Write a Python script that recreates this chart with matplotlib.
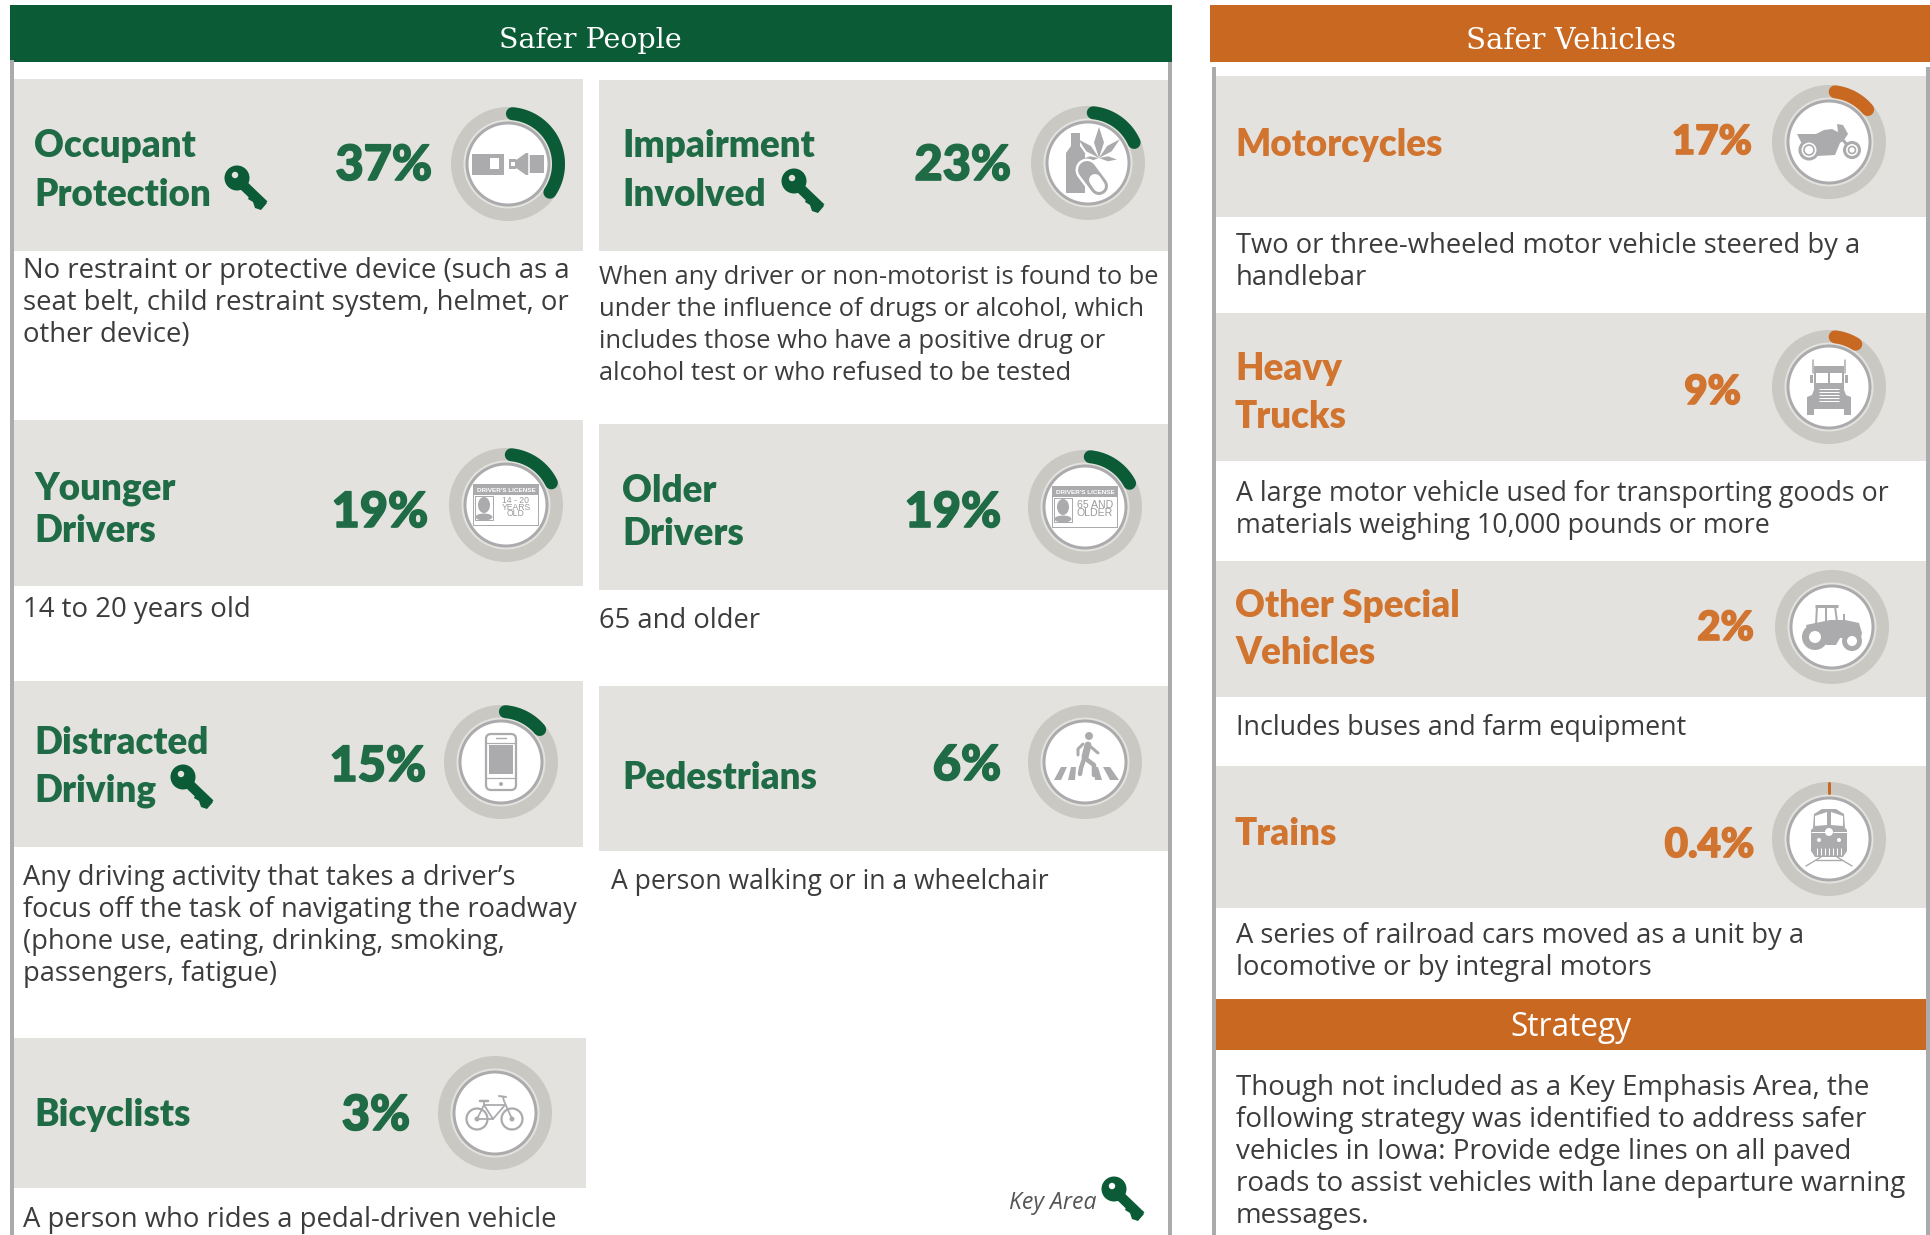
import matplotlib
matplotlib.use('Agg')
import matplotlib.pyplot as plt
import matplotlib.patheffects as pe
from matplotlib.patches import Rectangle, Circle, Ellipse, Polygon, FancyBboxPatch
import numpy as np

GREEN = '#0B5C36'
GREEN_TXT = '#1E6B45'
ORANGE = '#C96820'
ORANGE_TXT = '#D0742F'
PANEL = '#E3E2DE'
RING = '#C9C8C3'
ICON = '#ABABAD'
BODY = '#3C3C3C'

# 每个卡片的数据
names = ['Occupant\nProtection', 'Impairment\nInvolved', 'Younger\nDrivers', 'Older\nDrivers',
         'Distracted\nDriving', 'Pedestrians', 'Bicyclists',
         'Motorcycles', 'Heavy\nTrucks', 'Other Special\nVehicles', 'Trains']
pct_labels = ['37%', '23%', '19%', '19%', '15%', '6%', '3%', '17%', '9%', '2%', '0.4%']
# 圆环上彩色弧的起止角度(从正上方顺时针,读图估计)
arc_start = [5, 6, 6, 6, 5, 8, 7, 7, 7, 8, 0]
arc_end = [124, 66, 64, 62, 50, 8, 7, 50, 32, 8, 0]
descs = [
    ['No restraint or protective device (such as a', 'seat belt, child restraint system, helmet, or', 'other device)'],
    ['When any driver or non-motorist is found to be', 'under the influence of drugs or alcohol, which',
     'includes those who have a positive drug or', 'alcohol test or who refused to be tested'],
    ['14 to 20 years old'],
    ['65 and older'],
    ['Any driving activity that takes a driver\u2019s', 'focus off the task of navigating the roadway',
     '(phone use, eating, drinking, smoking,', 'passengers, fatigue)'],
    ['A person walking or in a wheelchair'],
    ['A person who rides a pedal-driven vehicle'],
    ['Two or three-wheeled motor vehicle steered by a', 'handlebar'],
    ['A large motor vehicle used for transporting goods or', 'materials weighing 10,000 pounds or more'],
    ['Includes buses and farm equipment'],
    ['A series of railroad cars moved as a unit by a', 'locomotive or by integral motors'],
]
strategy_lines = ['Though not included as a Key Emphasis Area, the', 'following strategy was identified to address safer',
                  'vehicles in Iowa: Provide edge lines on all paved', 'roads to assist vehicles with lane departure warning',
                  'messages.']
icons = ['belt', 'impair', 'young', 'old', 'phone', 'walk', 'bike', 'moto', 'truck', 'tractor', 'train']
has_key = [(237, 178), (794, 181), None, None, (183, 777), None, None, None, None, None, None]

# 版面位置(像素)
panels = [(10, 79, 583, 251), (599, 80, 1170, 251), (10, 420, 583, 586), (599, 424, 1170, 590),
          (10, 681, 583, 847), (599, 686, 1170, 851), (10, 1038, 586, 1188),
          (1214, 76, 1927, 217), (1214, 313, 1927, 461), (1214, 561, 1927, 697), (1214, 766, 1927, 908)]
centers = [(508, 164), (1088, 163), (506, 505), (1085, 507), (501, 762), (1085, 762), (495, 1113),
           (1829, 142), (1829, 387), (1832, 627), (1829, 839)]
name_x = [34, 622, 34, 622, 34, 622, 34, 1235, 1235, 1235, 1235]
name_y = [(157, 206), (157, 206), (499, 542), (502, 545), (754, 802), (789,), (1126,),
          (156,), (380, 428), (617, 664), (845,)]
pct_pos = [(432, 180), (1011, 180), (428, 527), (1001, 527), (426, 781), (1001, 780), (410, 1130),
           (1752, 154), (1741, 404), (1754, 640), (1754, 857)]
desc_x = [23, 599, 23, 599, 23, 611, 23, 1236, 1236, 1236, 1236]
desc_y = [278, 284, 617, 628, 885, 889, 1227, 253, 501, 735, 943]
# 原图各段文字的横向缩放不一样,所以字号分开写
desc_size = [19.8, 18.4, 19.9, 19.7, 19.6, 19.1, 19.8, 19.7, 19.3, 19.4, 19.7]

fig = plt.figure(figsize=(19.31, 12.35), dpi=100)
ax = fig.add_axes([0, 0, 1, 1])
ax.set_xlim(0, 1931)
ax.set_ylim(1235, 0)
ax.axis('off')


def line(xs, ys, lw=2.0, color=ICON, z=6, cap='round'):
    ax.plot(xs, ys, color=color, lw=lw * 0.72, solid_capstyle=cap, zorder=z)


def poly(pts, color=ICON, z=6):
    ax.add_patch(Polygon(pts, closed=True, fc=color, ec='none', zorder=z))


def rect(x0, y0, x1, y1, color=ICON, z=6):
    ax.add_patch(Rectangle((x0, y0), x1 - x0, y1 - y0, fc=color, ec='none', zorder=z))


def disc(x, y, r, color=ICON, z=6):
    ax.add_patch(Circle((x, y), r, fc=color, ec='none', zorder=z))


def draw_key(hx, hy, color=GREEN):
    # 钥匙:头部 + 斜向的杆
    disc(hx, hy, 12.5, color)
    disc(hx - 2, hy - 3, 3.2, PANEL if hy < 1150 else 'white', 7)
    line([hx + 4, hx + 27], [hy + 5, hy + 27], 10, color, cap='butt')
    poly([(hx + 14, hy + 14), (hx + 11, hy + 21), (hx + 16, hy + 24), (hx + 18, hy + 30), (hx + 24, hy + 32), (hx + 30, hy + 25)], color)


def draw_belt(cx, cy):
    rect(cx - 36, cy - 10, cx - 4, cy + 11)
    rect(cx - 18, cy - 6, cx - 9, cy + 5, 'white', 7)
    rect(cx + 1, cy - 5, cx + 8, cy + 5)
    rect(cx + 3, cy - 2, cx + 7, cy + 2, 'white', 7)
    poly([(cx + 8, cy - 4), (cx + 18, cy - 11), (cx + 21, cy - 11), (cx + 21, cy + 11), (cx + 18, cy + 11), (cx + 8, cy + 4)])
    rect(cx + 20, cy - 9, cx + 36, cy + 9)
    line([cx + 21, cx + 21], [cy - 11, cy + 11], 1.5, 'white', 7, 'butt')


def draw_impair(cx, cy):
    poly([(cx - 17, cy - 30), (cx - 8, cy - 30), (cx - 8, cy - 17), (cx - 3, cy - 10), (cx - 3, cy + 30),
          (cx - 22, cy + 30), (cx - 22, cy - 10), (cx - 17, cy - 17)])
    # 胶囊:白边、灰壳、白芯
    line([cx - 1, cx + 11], [cy + 7, cy + 23], 23, 'white', 7)
    line([cx - 1, cx + 11], [cy + 7, cy + 23], 18, ICON, 8)
    line([cx + 7, cx + 11], [cy + 17, cy + 23], 12, 'white', 9)
    # 叶子
    bx, by = cx + 11, cy - 5
    for ang, ln, w in zip([0, 48, -48, 95, -95], [31, 28, 28, 18, 18], [5, 3.5, 3.5, 2.5, 2.5]):
        t = np.radians(ang)
        tip = (bx + ln * np.sin(t), by - ln * np.cos(t))
        nx, ny = np.cos(t) * w, np.sin(t) * w
        mid = (bx + 0.5 * ln * np.sin(t), by - 0.5 * ln * np.cos(t))
        poly([(bx, by), (mid[0] - nx, mid[1] - ny), tip, (mid[0] + nx, mid[1] + ny)])


def draw_license(cx, cy, lines, size):
    rect(cx - 33, cy - 21, cx + 33, cy + 21, ICON, 6)
    rect(cx - 32, cy - 10, cx + 32, cy + 20, 'white', 7)
    ax.text(cx, cy - 15, "DRIVER'S LICENSE", color='white', fontsize=4.6, fontweight='bold',
            family='Liberation Sans', ha='center', va='center', zorder=8)
    line([cx - 31, cx - 13, cx - 13, cx - 31, cx - 31], [cy - 9, cy - 9, cy + 15, cy + 15, cy - 9], 1, ICON, 8)
    ax.add_patch(Ellipse((cx - 22, cy + 0), 12, 16, fc=ICON, ec='none', zorder=8))
    ax.add_patch(Ellipse((cx - 22, cy + 12), 17, 7, fc=ICON, ec='none', zorder=8))
    h = size * 1.05
    y0 = cy + 2 - h * (len(lines) - 1) / 2
    for i, s in enumerate(lines):
        ax.text(cx + 10, y0 + i * h, s, color='#9A9A9C', fontsize=size, family='Liberation Sans',
                ha='center', va='center', zorder=8)


def draw_phone(cx, cy):
    ax.add_patch(FancyBboxPatch((cx - 12, cy - 25), 24, 50, boxstyle='round,pad=3,rounding_size=5',
                                fc='white', ec=ICON, lw=1.6, zorder=6))
    rect(cx - 12, cy - 17, cx + 12, cy + 12)
    line([cx - 15, cx + 15], [cy - 19, cy - 19], 1.2, cap='butt')
    line([cx - 15, cx + 15], [cy + 16, cy + 16], 1.2, cap='butt')
    line([cx - 5, cx + 5], [cy - 24, cy - 24], 1.4)
    disc(cx, cy + 22, 2)


def draw_walk(cx, cy):
    stripes = [(-31, -24, -24, -18), (-17, -10, -14, -9), (10, 17, 9, 13), (25, 34, 18, 25)]
    for b0, b1, t0, t1 in stripes:
        poly([(cx + b0, cy + 18), (cx + b1, cy + 18), (cx + t1, cy + 5), (cx + t0, cy + 5)])
    disc(cx + 4, cy - 26, 4)
    line([cx + 3, cx + 0], [cy - 17, cy - 5], 7, z=8)
    line([cx - 2, cx - 7, cx - 7], [cy - 18, cy - 13, cy - 7], 3, z=8)
    line([cx + 6, cx + 13], [cy - 15, cy - 9], 3, z=8)
    line([cx - 1, cx - 4, cx - 5], [cy - 3, cy + 6, cy + 12], 4.5, z=8)
    line([cx + 1, cx + 9, cx + 9], [cy - 3, cy + 3, cy + 13], 4.5, z=8)


def draw_bike(cx, cy):
    for wx, wy in [(cx - 18, cy + 6), (cx + 17, cy + 6)]:
        ax.add_patch(Circle((wx, wy), 10.5, fc='none', ec=ICON, lw=1.6, zorder=6))
        disc(wx, wy, 2.5)
    line([cx - 18, cx - 11, cx - 2, cx - 18], [cy + 6, cy - 8, cy + 6, cy + 6], 1.8)
    line([cx - 11, cx + 10, cx - 2], [cy - 8, cy - 8, cy + 6], 1.8)
    line([cx + 17, cx + 9, cx + 8], [cy + 6, cy - 12, cy - 16], 1.8)
    line([cx + 4, cx + 11], [cy - 17, cy - 16], 2)
    line([cx - 15, cx - 7], [cy - 12, cy - 12], 2.5)
    line([cx - 11, cx - 11], [cy - 12, cy - 8], 1.8)


def draw_moto(cx, cy):
    for wx, wy, r in [(cx - 20, cy + 8, 10), (cx + 23, cy + 8, 8.5)]:
        ax.add_patch(Circle((wx, wy), r - 1, fc='white', ec=ICON, lw=2.2, zorder=7))
        ax.add_patch(Circle((wx, wy), r - 5, fc='none', ec=ICON, lw=1.2, zorder=7))
    poly([(cx - 32, cy - 8), (cx - 13, cy - 8), (cx - 5, cy - 12), (cx + 3, cy - 13), (cx + 9, cy - 10), (cx + 8, cy - 18),
          (cx + 14, cy - 17), (cx + 19, cy - 8), (cx + 15, cy - 2), (cx + 11, cy + 1), (cx + 6, cy + 13), (cx - 12, cy + 14),
          (cx - 14, cy + 1), (cx - 27, cy + 2)])
    line([cx + 12, cx + 23], [cy - 4, cy + 8], 3)


def draw_truck(cx, cy):
    rect(cx - 15, cy - 21, cx + 15, cy + 2)
    rect(cx - 13, cy - 14, cx - 1, cy - 4, 'white', 7)
    rect(cx + 1, cy - 14, cx + 13, cy - 4, 'white', 7)
    poly([(cx - 14, cy), (cx + 14, cy), (cx + 17, cy + 8), (cx + 22, cy + 10), (cx + 22, cy + 22), (cx - 22, cy + 22),
          (cx - 22, cy + 10), (cx - 17, cy + 8)])
    for y in range(2, 15, 3):
        line([cx - 10, cx + 10], [cy + y, cy + y], 1, 'white', 7, 'butt')
    rect(cx - 22, cy + 22, cx - 15, cy + 28)
    rect(cx + 15, cy + 22, cx + 22, cy + 28)
    rect(cx - 19, cy - 12, cx - 16, cy - 4)
    rect(cx + 16, cy - 12, cx + 19, cy - 4)
    line([cx - 16, cx - 16], [cy - 27, cy - 14], 1.5)
    line([cx + 16, cx + 16], [cy - 27, cy - 14], 1.5)


def draw_tractor(cx, cy):
    poly([(cx - 26, cy - 2), (cx - 2, cy - 7), (cx + 13, cy - 7), (cx + 27, cy - 4), (cx + 30, cy + 6), (cx + 29, cy + 11),
          (cx + 8, cy + 11), (cx + 4, cy + 18), (cx - 6, cy + 18), (cx - 12, cy + 2), (cx - 25, cy + 2)])
    line([cx - 17, cx + 6], [cy - 21, cy - 21], 3, cap='butt')
    line([cx - 15, cx - 16], [cy - 21, cy - 2], 2, cap='butt')
    line([cx - 6, cx - 6], [cy - 21, cy - 5], 2, cap='butt')
    line([cx + 3, cx + 5], [cy - 21, cy - 5], 2, cap='butt')
    rect(cx + 11, cy - 13, cx + 13, cy - 6)
    disc(cx - 17, cy + 10, 13)
    disc(cx - 17, cy + 10, 6, 'white', 7)
    disc(cx + 20, cy + 14, 10)
    disc(cx + 20, cy + 14, 5, 'white', 7)


def draw_train(cx, cy):
    poly([(cx - 7, cy - 30), (cx + 7, cy - 30), (cx + 15, cy - 25), (cx + 16, cy - 11), (cx + 18, cy - 9), (cx + 18, cy + 12),
          (cx + 14, cy + 18), (cx - 14, cy + 18), (cx - 18, cy + 12), (cx - 18, cy - 9), (cx - 16, cy - 11), (cx - 15, cy - 25)])
    poly([(cx - 14, cy - 23), (cx - 2, cy - 27), (cx - 2, cy - 14), (cx - 14, cy - 13)], 'white', 7)
    poly([(cx + 14, cy - 23), (cx + 2, cy - 27), (cx + 2, cy - 14), (cx + 14, cy - 13)], 'white', 7)
    disc(cx, cy - 7, 4, 'white', 7)
    line([cx - 18, cx - 4], [cy - 7, cy - 7], 1, 'white', 7, 'butt')
    line([cx + 4, cx + 18], [cy - 7, cy - 7], 1, 'white', 7, 'butt')
    disc(cx - 10, cy + 1, 2, 'white', 7)
    disc(cx + 10, cy + 1, 2, 'white', 7)
    for dx in range(-12, 13, 4):
        line([cx + dx, cx + dx], [cy + 9, cy + 16], 1, 'white', 7, 'butt')
    line([cx - 23, cx - 8], [cy + 27, cy + 18], 1.4)
    line([cx + 23, cx + 8], [cy + 27, cy + 18], 1.4)
    line([cx - 13, cx + 13], [cy + 21, cy + 21], 1.4)


def draw_icon(kind, cx, cy):
    if kind == 'belt':
        draw_belt(cx, cy)
    elif kind == 'impair':
        draw_impair(cx, cy)
    elif kind == 'young':
        draw_license(cx, cy, ['14 - 20', 'YEARS', 'OLD'], 6.2)
    elif kind == 'old':
        draw_license(cx, cy, ['65 AND', 'OLDER'], 7.6)
    elif kind == 'phone':
        draw_phone(cx, cy)
    elif kind == 'walk':
        draw_walk(cx, cy)
    elif kind == 'bike':
        draw_bike(cx, cy)
    elif kind == 'moto':
        draw_moto(cx, cy)
    elif kind == 'truck':
        draw_truck(cx, cy)
    elif kind == 'tractor':
        draw_tractor(cx, cy)
    elif kind == 'train':
        draw_train(cx, cy)


def draw_gauge(cx, cy, start, end, color):
    disc(cx, cy, 57, RING, 3)
    disc(cx, cy, 44.5, PANEL, 3.1)
    disc(cx, cy, 42.5, ICON, 3.2)
    disc(cx, cy, 39.5, 'white', 3.3)
    if start == end == 0:
        # 0.4%:只有一条细线
        line([cx, cx], [cy - 56, cy - 46], 3, color, 5)
        return
    t = np.radians(np.linspace(start, end, 60))
    line(cx + 50.5 * np.sin(t), cy - 50.5 * np.cos(t), 13, color, 5)


# 表头和底色
rect(10, 5, 1172, 62, GREEN, 2)
rect(1210, 5, 1931, 62, ORANGE, 2)
ax.text(590, 41, 'Safer People', color='white', fontsize=20.5, family='DejaVu Serif', ha='center', va='center', zorder=3)
ax.text(1571, 41, 'Safer Vehicles', color='white', fontsize=21, family='DejaVu Serif', ha='center', va='center', zorder=3)
rect(1215, 999, 1929, 1050, ORANGE, 2)
ax.text(1571, 1027, 'Strategy', color='white', fontsize=22.8, family='Open Sans', ha='center', va='center', zorder=3)

for p in panels:
    rect(p[0], p[1], p[2], p[3], PANEL, 1)

# 竖线
for x, y0 in [(12, 60), (1170, 62), (1214, 67), (1928, 67)]:
    rect(x - 1.8, y0, x + 1.8, 1235, ICON, 2)

for i in range(len(names)):
    vehicle = i >= 7
    txt_c = ORANGE_TXT if vehicle else GREEN_TXT
    arc_c = ORANGE if vehicle else GREEN
    for s, y in zip(names[i].split('\n'), name_y[i]):
        ax.text(name_x[i], y, s, color=txt_c, fontsize=26.5, fontweight=800, family='Lato', ha='left', va='baseline', zorder=4)
    pct = ax.text(pct_pos[i][0], pct_pos[i][1], pct_labels[i], color=txt_c, fontsize=29 if vehicle else 35,
                  fontweight=900, family='Lato', ha='right', va='baseline', zorder=4)
    # 原图的百分比字更粗,加一点描边
    pct.set_path_effects([pe.withStroke(linewidth=1.2, foreground=txt_c)])
    for j, s in enumerate(descs[i]):
        ax.text(desc_x[i], desc_y[i] + j * 32, s, color=BODY, fontsize=desc_size[i], family='Open Sans', ha='left', va='baseline', zorder=4)
    cx, cy = centers[i]
    draw_gauge(cx, cy, arc_start[i], arc_end[i], arc_c)
    draw_icon(icons[i], cx, cy)
    if has_key[i] is not None:
        draw_key(has_key[i][0], has_key[i][1])

for j, s in enumerate(strategy_lines):
    ax.text(1236, 1095 + j * 32, s, color=BODY, fontsize=20, family='Open Sans', ha='left', va='baseline', zorder=4)

ax.text(1097, 1209, 'Key Area', color='#555555', fontsize=16.6, style='italic', family='Open Sans', ha='right', va='baseline', zorder=4)
draw_key(1114, 1189)

plt.savefig('out.png', dpi=100)
